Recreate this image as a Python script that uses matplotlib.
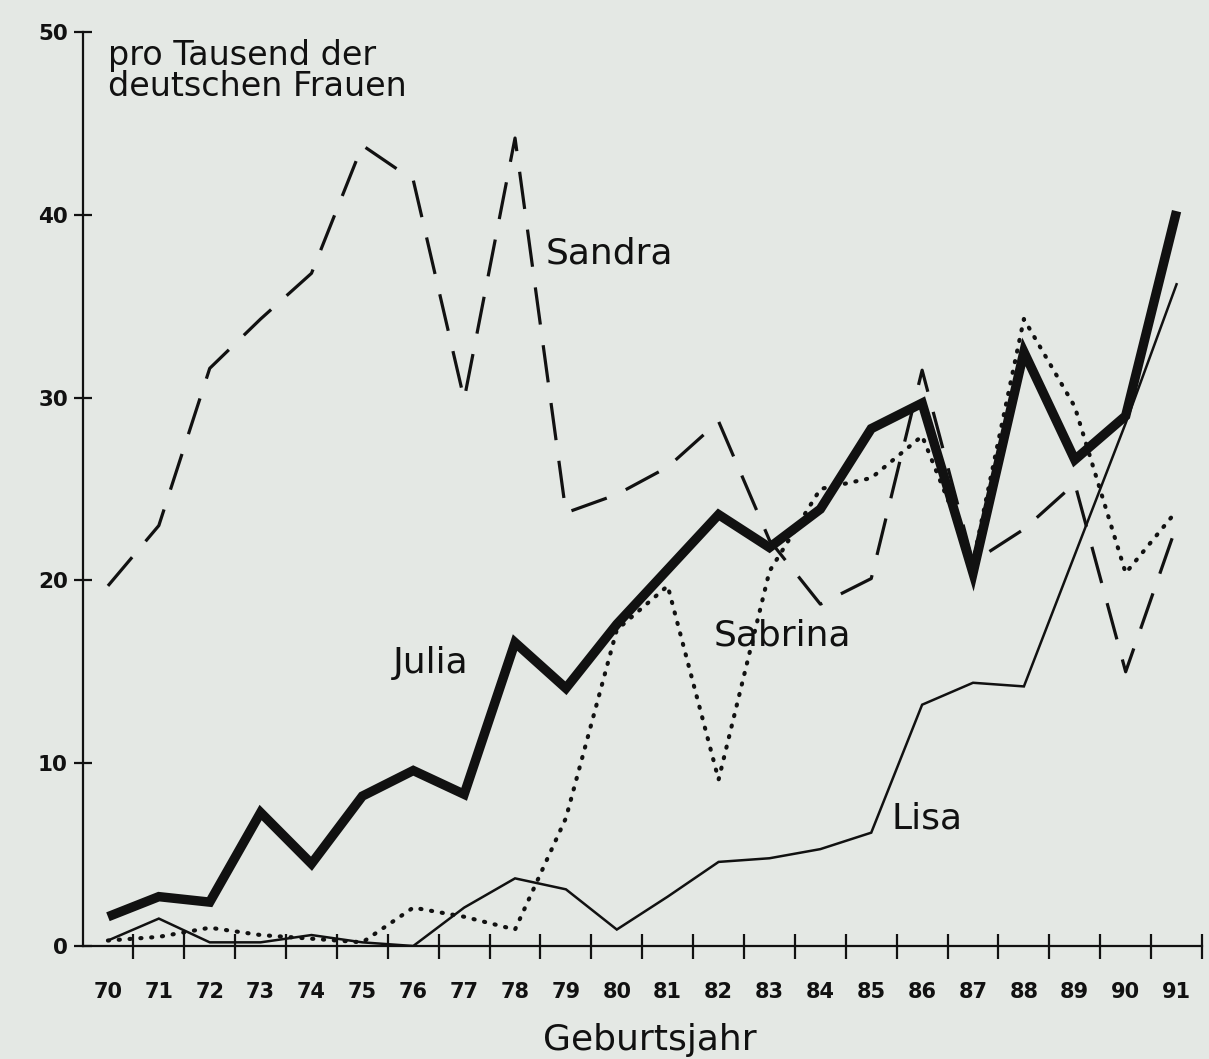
import matplotlib
matplotlib.use("Agg")
import matplotlib.pyplot as plt
import numpy as np

plt.rcParams['font.family'] = ['DejaVu Sans']
plt.rcParams['lines.scale_dashes'] = False

# ---- data ----
years = list(range(70, 92))
year_labels = [str(y) for y in years]
julia = [1.6, 2.7, 2.4, 7.3, 4.5, 8.2, 9.6, 8.3, 16.6, 14.1, 17.6, 20.6,
         23.6, 21.8, 23.9, 28.3, 29.7, 20.4, 32.5, 26.6, 29.0, 40.2]
sandra = [19.7, 23.0, 31.6, 34.3, 36.8, 43.8, 41.9, 29.9, 44.2, 23.7, 24.7, 26.2,
          28.7, 22.2, 18.7, 20.1, 31.5, 21.0, 22.8, 25.3, 15.0, 23.0]
sabrina = [0.3, 0.5, 1.0, 0.6, 0.4, 0.2, 2.1, 1.6, 0.9, 7.0, 17.3, 19.7,
           9.1, 20.5, 25.0, 25.6, 27.9, 21.0, 34.3, 29.5, 20.4, 23.8]
lisa = [0.3, 1.5, 0.2, 0.2, 0.6, 0.2, 0.0, 2.1, 3.7, 3.1, 0.9, 2.7,
        4.6, 4.8, 5.3, 6.2, 13.2, 14.4, 14.2, 21.4, 28.6, 36.2]
y_ticks = [0, 10, 20, 30, 40, 50]

bg = '#e4e8e4'
ink = '#111111'

fig = plt.figure(figsize=(12.09, 10.59), dpi=100, facecolor=bg)
ax = fig.add_axes([82.5 / 1209, 1 - 946 / 1059, (1202 - 82.5) / 1209, (946 - 32) / 1059])
ax.set_facecolor(bg)

ax.plot(years, sandra, color=ink, lw=2.3, dashes=(27, 15), dash_capstyle='butt')
ax.plot(years, sabrina, color=ink, lw=3.0, dashes=(0.8, 7.0), dash_capstyle='round')
ax.plot(years, lisa, color=ink, lw=1.8, solid_joinstyle='miter')
ax.plot(years, julia, color=ink, lw=6.8, solid_joinstyle='miter', solid_capstyle='butt')

ax.set_xlim(69.5, 91.5)
ax.set_ylim(0, 50)

for s in ['top', 'right']:
    ax.spines[s].set_visible(False)
for s in ['left', 'bottom']:
    ax.spines[s].set_linewidth(1.6)
    ax.spines[s].set_color(ink)

ax.set_xticks(years)
ax.set_xticklabels(year_labels, fontsize=15, fontweight='bold')
ax.set_xticks([y + 0.5 for y in years], minor=True)
ax.tick_params(axis='x', which='major', length=0, pad=26, colors=ink)
ax.tick_params(axis='x', which='minor', direction='inout', length=18, width=1.6, color=ink)

ax.set_yticks(y_ticks)
ax.set_yticklabels([str(v) for v in y_ticks], fontsize=15.5, fontweight='bold')
ax.tick_params(axis='y', which='major', direction='inout', length=13, width=1.6,
               pad=4, colors=ink)

ax.text(70.0, 49.6, 'pro Tausend der\ndeutschen Frauen', fontsize=24,
        ha='left', va='top', color=ink, linespacing=0.92)
ax.text(78.6, 37.9, 'Sandra', fontsize=26, ha='left', va='center', color=ink)
ax.text(75.6, 15.5, 'Julia', fontsize=26, ha='left', va='center', color=ink)
ax.text(81.9, 17.0, 'Sabrina', fontsize=26, ha='left', va='center', color=ink)
ax.text(85.4, 7.0, 'Lisa', fontsize=26, ha='left', va='center', color=ink)

fig.text(650 / 1209, 1 - 1040 / 1059, 'Geburtsjahr', fontsize=26,
         ha='center', va='center', color=ink)

fig.savefig('out.png', dpi=100, facecolor=bg)
